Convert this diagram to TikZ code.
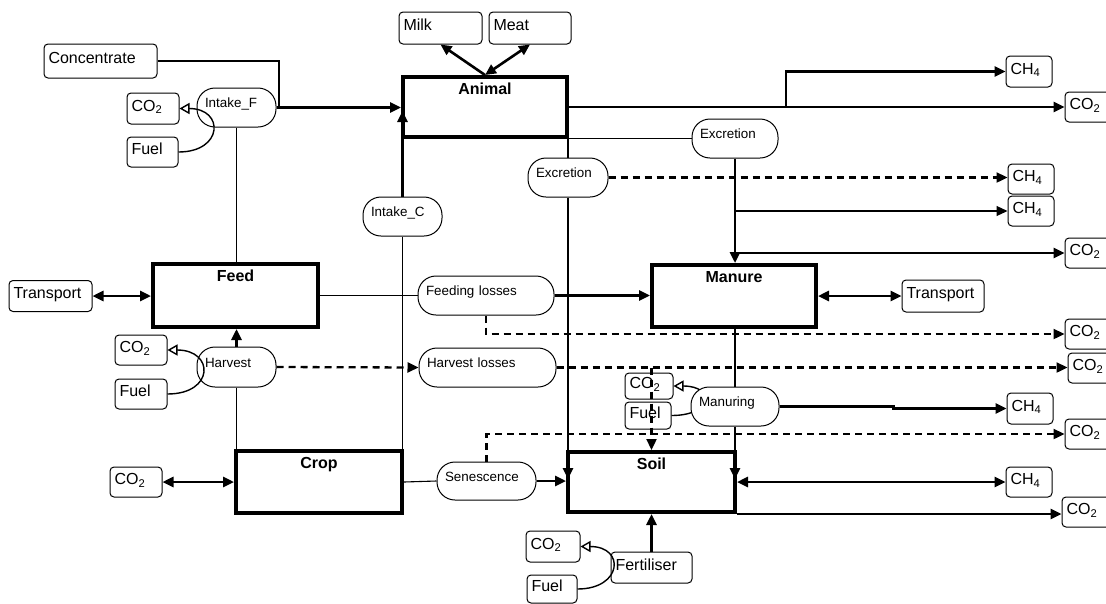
\documentclass[tikz,border=0pt]{standalone}
\usepackage{fontspec}
\setmainfont{Liberation Sans}
\usetikzlibrary{arrows.meta}
\newcommand\myfbig{\fontsize{16}{19}\selectfont}
\newcommand\myfsmall{\fontsize{13.4}{16}\selectfont}
\begin{document}
\begin{tikzpicture}[x=1pt,y=-1pt,
  sbox/.style 2 args={draw, rounded corners=4pt, line width=1pt, fill=white, font=\myfbig,
     minimum width=#1pt, minimum height=#2pt, text width=#1pt-9pt, inner xsep=4.5pt, inner ysep=0pt,
     align=left, text height=11.5pt, text depth=6pt},
  pill/.style 2 args={draw, rounded corners=18pt, line width=1pt, fill=white, font=\myfsmall,
     minimum width=#1pt, minimum height=#2pt, text width=#1pt-16pt, inner xsep=8pt, inner ysep=0pt,
     align=left, text height=9.6pt, text depth=9pt},
  mbox/.style 2 args={draw, line width=4pt, fill=white, minimum width=#1pt, minimum height=#2pt, inner sep=0pt},
  mlabel/.style={anchor=north, font=\myfbig\bfseries, inner sep=0pt, yshift=-8pt},
  tline/.style={line width=1.1pt},
  kline/.style={line width=2.6pt},
  aline/.style={line width=1.4pt},
  dline/.style={line width=2.3pt, dash pattern=on 7pt off 5pt},
  arr/.style={-{Triangle[length=11pt,width=10pt]}},
  darr/.style={{Triangle[length=11pt,width=10pt]}-{Triangle[length=11pt,width=10pt]}},
  oarr/.style={-{Triangle[open,length=10pt,width=11pt,fill=white]}}
]
\fill[white] (0,0) rectangle (1106,603);
\useasboundingbox (0,0) rectangle (1106,603);

% main boxes
\node[mbox={164}{60}, label={[mlabel]north:Animal}] (animal) at (485,107) {};
\node[mbox={165}{63}, label={[mlabel]north:Feed}] (feed) at (235.5,295.5) {};
\node[mbox={164}{62}, label={[mlabel]north:Manure}] (manure) at (734,296) {};
\node[mbox={166}{62}, label={[mlabel]north:Crop}] (crop) at (319,482) {};
\node[mbox={167}{60}, label={[mlabel]north:Soil}] (soil) at (651.5,482) {};

% small boxes
\node[sbox={113}{34}] (conc) at (100.5,61) {Concentrate};
\node[sbox={52}{31}] (co2i) at (153,108.5) {CO\textsubscript{2}};
\node[sbox={51}{30}] (fueli) at (152.5,152) {Fuel};
\node[sbox={83}{32}] (milk) at (440.5,28) {Milk};
\node[sbox={82}{32}] (meat) at (530,28) {Meat};
\node[sbox={46}{31}] (ch4a) at (1029,71.5) {CH\textsubscript{4}};
\node[sbox={52}{30}] (co2a) at (1091,107) {CO\textsubscript{2}};
\node[sbox={46}{30}] (ch4b) at (1031,179) {CH\textsubscript{4}};
\node[sbox={46}{30}] (ch4c) at (1031,211) {CH\textsubscript{4}};
\node[sbox={52}{30}] (co2b) at (1091,253) {CO\textsubscript{2}};
\node[sbox={83}{31}] (trl) at (50.5,296) {Transport};
\node[sbox={82}{32}] (trr) at (943,296) {Transport};
\node[sbox={52}{30}] (co2c) at (1091,334) {CO\textsubscript{2}};
\node[sbox={52}{30}] (co2d) at (1094,368) {CO\textsubscript{2}};
\node[sbox={52}{30}] (co2h) at (141,350) {CO\textsubscript{2}};
\node[sbox={52}{30}] (fuelh) at (141,394) {Fuel};
\node[sbox={48}{26}] (co2m) at (649,386) {CO\textsubscript{2}};
\node[sbox={46}{27}] (fuelm) at (648,415.5) {Fuel};
\node[sbox={46}{31}] (ch4m) at (1030,408.5) {CH\textsubscript{4}};
\node[sbox={52}{30}] (co2e) at (1091,434) {CO\textsubscript{2}};
\node[sbox={52}{30}] (co2cr) at (136,482) {CO\textsubscript{2}};
\node[sbox={46}{30}] (ch4s) at (1029,482) {CH\textsubscript{4}};
\node[sbox={52}{30}] (co2s) at (1088,512) {CO\textsubscript{2}};
\node[sbox={81}{31}] (fert) at (651.5,567.5) {Fertiliser};
\node[sbox={54}{31}] (co2f) at (553,546.5) {CO\textsubscript{2}};
\node[sbox={50}{28}] (fuelf) at (552,589) {Fuel};

% pills
\node[pill={79}{39}] (intf) at (236.5,107.5) {Intake\_F};
\node[pill={79}{39}] (intc) at (402.5,216.5) {Intake\_C};
\node[pill={80}{39}] (excl) at (568,177.5) {Excretion};
\node[pill={86}{39}] (excr) at (735,138.5) {Excretion};
\node[pill={136}{39}] (feedl) at (486,295.5) {Feeding losses};
\node[pill={79}{40}] (harv) at (236.5,367) {Harvest};
\node[pill={137}{39}] (harvl) at (487.5,367.5) {Harvest losses};
\node[pill={99}{38}] (sen) at (486.5,481) {Senescence};
\draw[aline,oarr] (fuelm.east) .. controls +(42,0) and +(42,0) .. (co2m.east);
\node[pill={88}{39}] (manur) at (735,406.5) {Manuring};

% junction coordinates
\coordinate (j1) at (279,107.5);
\coordinate (tipC) at (402.5,111);
\coordinate (jCH4) at (786,107);
\coordinate (jE1) at (735,211);
\coordinate (jE2) at (735,253);
\coordinate (jS) at (651.5,367.5);
\coordinate (tipEx) at (568,479);
\coordinate (tipMan) at (735,479);

% animal
\draw[kline] (conc.east) -| (j1);
\draw[kline,arr] (intf.east) -- (intf.east -| animal.west);
\draw[kline,arr] (intc.north) -- (tipC);
\draw[kline,arr] (animal.north) -- (milk.south);
\draw[kline,darr] (animal.north) -- (meat.south);
\draw[kline,arr] (animal.east) -- (co2a.west);
\draw[kline,arr] (jCH4) |- (ch4a.west);
\draw[tline] (animal.south east |- excr.west) -- (excr.west);
\draw[tline] (excl.north |- animal.south) -- (excl.north);
\draw[kline,arr] (excl.south) -- (tipEx);
\draw[dline,arr] (excl.east) -- (excl.east -| ch4b.west);
\draw[kline,arr] (excr.south) -- (excr.south |- manure.north);
\draw[tline,arr] (jE1) -- (jE1 -| ch4c.west);
\draw[kline,arr] (jE2) -- (jE2 -| co2b.west);

% feed
\draw[tline] (intf.south) -- (intf.south |- feed.north);
\draw[kline,darr] (trl.east) -- (trl.east -| feed.west);
\draw[tline] (feed.east) -- (feedl.west);
\draw[kline,arr] (feedl.east) -- (feedl.east -| manure.west);
\draw[dline,arr] (feedl.south) |- (co2c.west);
\draw[kline,arr] (harv.north) -- (harv.north |- feed.south);
\draw[tline] (harv.south) -- (harv.south |- crop.north);
\draw[dline,arr] (harv.east) -- (harvl.west);
\draw[dline,arr] (harvl.east) -- (harvl.east -| co2d.west);
\draw[dline,arr] (jS) -- (soil.north);
\draw[tline] (intc.south) -- (intc.south |- crop.north);

% manure
\draw[kline,darr] (manure.east) -- (manure.east -| trr.west);
\draw[tline] (manur.north |- manure.south) -- (manur.north);
\draw[kline,arr] (manur.south) -- (tipMan);
\draw[kline,arr] (manur.east) -- ++(114,0) |- (ch4m.west);

% crop & soil
\draw[kline,darr] (co2cr.east) -- (co2cr.east -| crop.west);
\draw[tline] (crop.east) -- (sen.west);
\draw[kline,arr] (sen.east) -- (sen.east -| soil.west);
\draw[dline,arr] (sen.north) |- (co2e.west);
\draw[kline,darr] (soil.east) -- (soil.east -| ch4s.west);
\draw[kline,arr] (soil.south east) -- (soil.south east -| co2s.west);
\draw[kline,arr] (fert.north) -- (fert.north |- soil.south);

% fuel arcs
\draw[aline,oarr] (fueli.east) .. controls +(45,0) and +(45,0) .. (co2i.east);
\draw[aline,oarr] (fuelh.east) .. controls +(47,0) and +(47,0) .. (co2h.east);
\draw[aline,oarr] (fuelf.east) .. controls +(45,0) and +(45,0) .. (co2f.east);
\end{tikzpicture}
\end{document}
